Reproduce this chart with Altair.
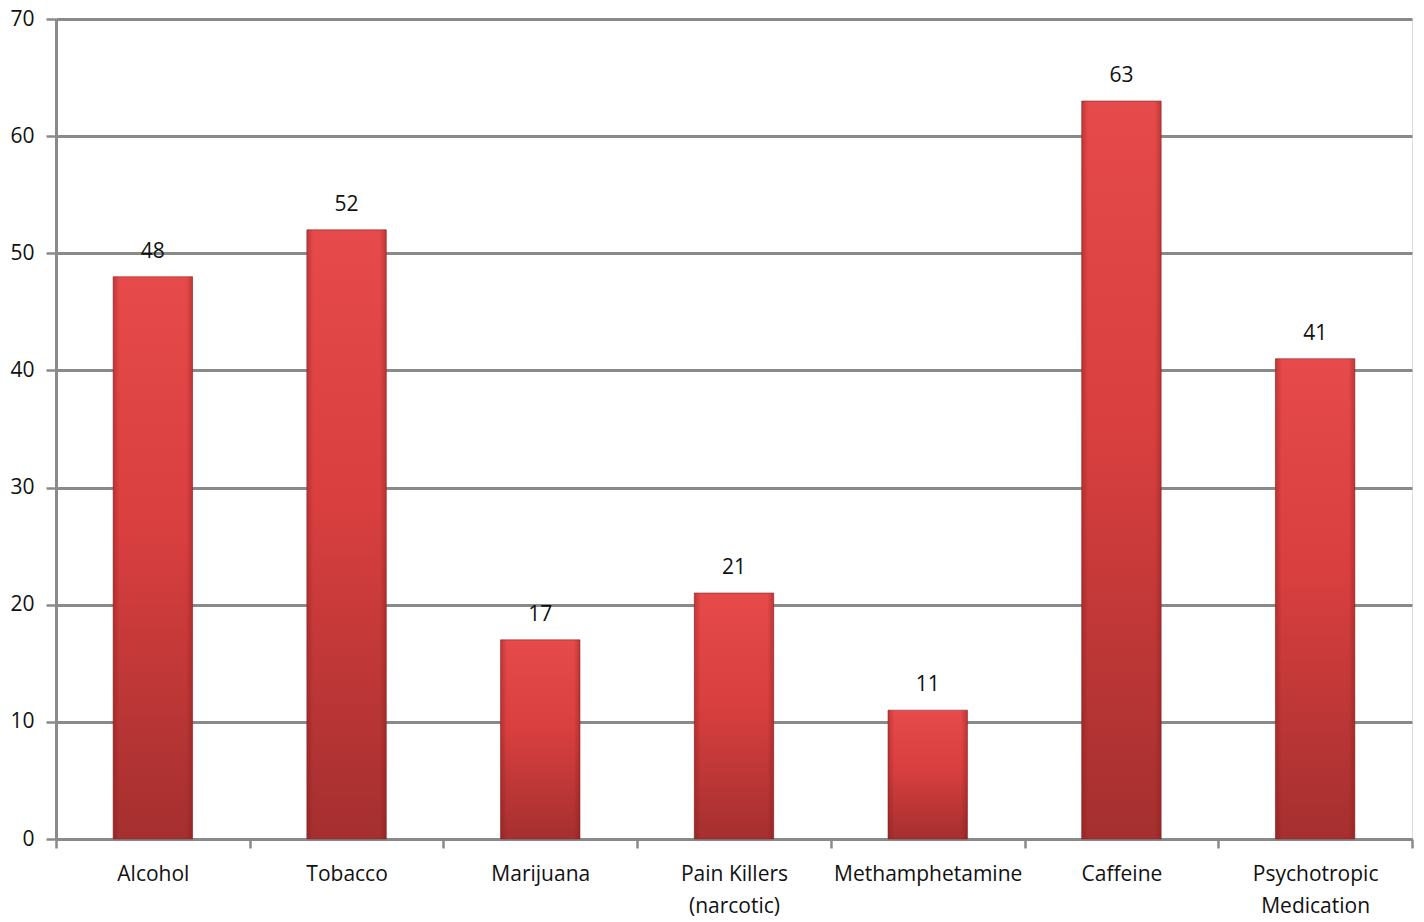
import altair as alt
import pandas as pd

# Survey counts per substance
substances = ["Alcohol", "Tobacco", "Marijuana", "Pain Killers|(narcotic)",
              "Methamphetamine", "Caffeine", "Psychotropic|Medication"]
counts = [48, 52, 17, 21, 11, 63, 41]
y_ticks = [0, 10, 20, 30, 40, 50, 60, 70]

df = pd.DataFrame({"substance": substances, "count": counts})

FONT = "Open Sans"
GRID = "#8a8a8a"
BAR_BAND = 0.41

x_enc = alt.X(
    "substance:N",
    sort=substances,
    scale=alt.Scale(paddingInner=0, paddingOuter=0),
    axis=alt.Axis(
        title=None,
        labelAngle=0,
        labelExpr="datum.value ? split(datum.value, '|') : ''",
        labelFont=FONT,
        labelFontSize=21,
        labelColor="#111111",
        labelPadding=15,
        labelLineHeight=32,
        labelLimit=0,
        tickBand="extent",
        tickSize=9,
        tickWidth=2.5,
        tickColor=GRID,
        domainColor=GRID,
        domainWidth=3,
    ),
)

y_enc = alt.Y(
    "count:Q",
    scale=alt.Scale(domain=[0, 70], nice=False),
    axis=alt.Axis(
        title=None,
        values=y_ticks,
        labelFont=FONT,
        labelFontSize=21,
        labelColor="#111111",
        labelPadding=12,
        tickSize=10,
        tickWidth=2.5,
        tickColor=GRID,
        domainColor=GRID,
        domainWidth=3,
        grid=True,
        gridColor=GRID,
        gridWidth=3,
    ),
)

bar_fill = alt.LinearGradient(
    gradient="linear",
    x1=0, y1=0, x2=0, y2=1,
    stops=[
        alt.GradientStop(color="#e64a4a", offset=0),
        alt.GradientStop(color="#d93f3f", offset=0.45),
        alt.GradientStop(color="#a52f2f", offset=1),
    ],
)

bars = alt.Chart(df).mark_bar(
    color=bar_fill,
    stroke="#8a2a2a",
    strokeWidth=1,
    strokeOpacity=0.6,
    width=alt.RelativeBandSize(BAR_BAND),
).encode(x=x_enc, y=y_enc)

# Darker vertical edges give the bars their bevelled look
edge_fill = alt.LinearGradient(
    gradient="linear",
    x1=0, y1=0, x2=1, y2=0,
    stops=[
        alt.GradientStop(color="rgba(120,20,20,0.35)", offset=0),
        alt.GradientStop(color="rgba(120,20,20,0)", offset=0.08),
        alt.GradientStop(color="rgba(120,20,20,0)", offset=0.92),
        alt.GradientStop(color="rgba(120,20,20,0.35)", offset=1),
    ],
)
edges = alt.Chart(df).mark_bar(
    color=edge_fill, width=alt.RelativeBandSize(BAR_BAND)
).encode(x=x_enc, y=y_enc)

labels = alt.Chart(df).mark_text(
    baseline="bottom",
    dy=-15,
    font=FONT,
    fontSize=21,
    color="#111111",
).encode(x=x_enc, y=y_enc, text="count:Q")

chart = (
    alt.layer(bars, edges, labels)
    .properties(
        width=1356,
        height=820,
        autosize=alt.AutoSizeParams(type="none"),
        padding={"left": 56, "top": 19, "right": 12, "bottom": 83},
    )
    .configure_view(stroke=None)
    .configure(background="white")
)

chart.save("out.html", embed_options={"renderer": "svg", "actions": False})
